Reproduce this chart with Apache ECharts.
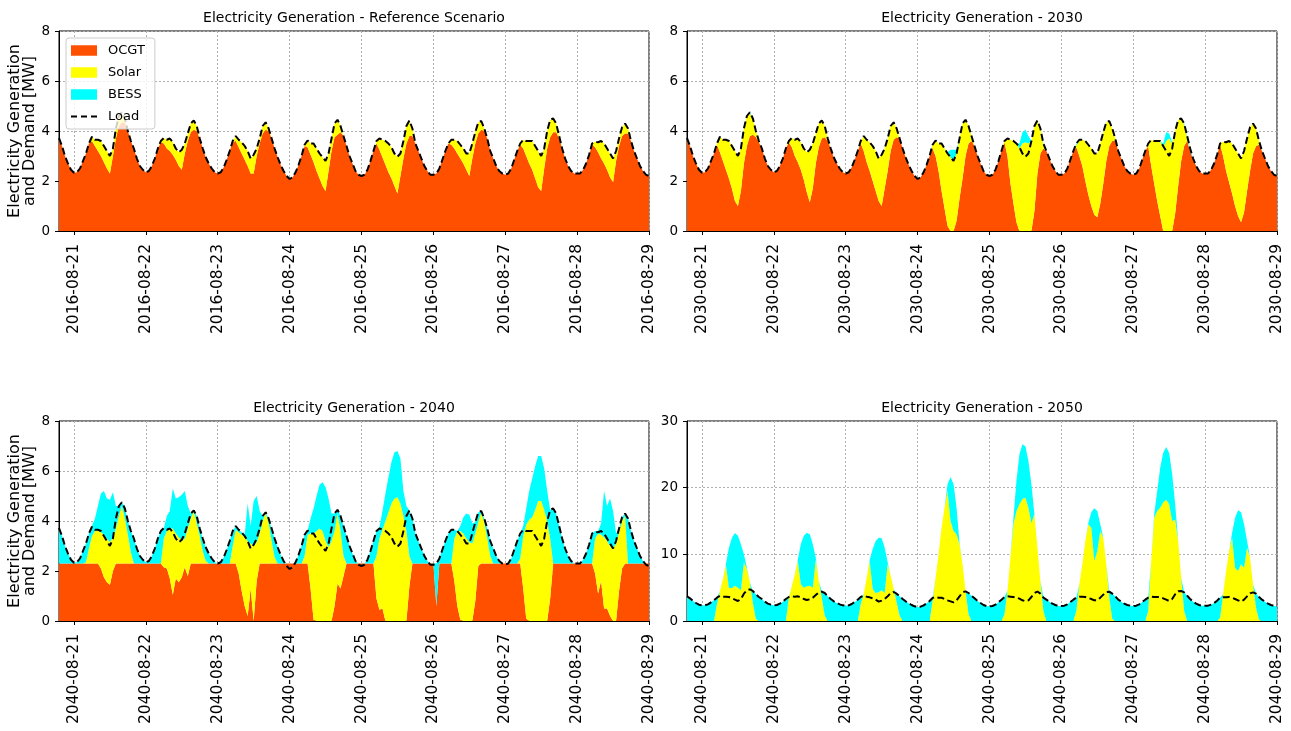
<!DOCTYPE html>
<html>
<head>
<meta charset="utf-8">
<script src="https://cdn.jsdelivr.net/npm/echarts@6/dist/echarts.min.js"></script>
<style>
html,body{margin:0;padding:0;background:#fff;}
#chart{width:1291px;height:731px;}
</style>
</head>
<body>
<div id="chart"></div>
<script>
// ---------------- DATA (hourly, 08-20 19:00 -> 08-29 00:00, 198 points) ----------------
const LOAD = [
  3.72,3.4,3.0,2.7,2.45,
  2.33,2.35,2.5,2.8,3.1,3.5, 3.77,3.65,3.65,3.6,3.4,3.2, 3.0,3.3,4.1,4.6,4.75,4.5, 4.0,3.6,3.3,2.9,2.6,2.45,
  2.35,2.4,2.6,2.9,3.3,3.6, 3.72,3.65,3.7,3.55,3.3,3.15, 3.25,3.5,3.9,4.3,4.42,4.2, 3.7,3.3,2.95,2.7,2.5,2.35,
  2.3,2.35,2.55,2.85,3.2,3.6, 3.8,3.65,3.55,3.4,3.2,2.9, 3.05,3.3,3.7,4.2,4.35,4.1, 3.7,3.3,2.95,2.65,2.4,2.2,
  2.08,2.15,2.35,2.65,3.0,3.45, 3.62,3.5,3.5,3.3,3.1,2.95, 2.8,3.1,3.7,4.3,4.45,4.2, 3.8,3.4,3.0,2.7,2.4,2.25,
  2.2,2.25,2.45,2.8,3.2,3.6, 3.7,3.65,3.6,3.5,3.35,3.1, 2.97,3.1,3.6,4.2,4.42,4.1, 3.5,3.2,2.9,2.6,2.4,2.25,
  2.25,2.3,2.5,2.85,3.2,3.5, 3.65,3.65,3.6,3.45,3.3,3.1, 3.1,3.5,3.95,4.35,4.4,4.1, 3.7,3.2,2.9,2.6,2.4,2.3,
  2.25,2.3,2.5,2.85,3.2,3.5, 3.65,3.6,3.6,3.6,3.4,3.2, 3.0,3.3,4.0,4.45,4.5,4.3, 3.8,3.3,2.9,2.6,2.4,2.3,
  2.3,2.3,2.45,2.7,3.05,3.5, 3.57,3.55,3.6,3.5,3.3,3.1, 2.9,3.2,3.7,4.15,4.3,4.1, 3.6,3.2,2.9,2.6,2.4,2.25,
  2.2
];

// Reference scenario (2016)
const OCGT_2016 = [
  3.72,3.4,3.0,2.7,2.45,
  2.33,2.35,2.5,2.8,3.1,3.5, 3.6,3.4,3.2,3.0,2.75,2.5, 2.3,3.0,3.7,4.2,4.35,4.35, 4.0,3.6,3.3,2.9,2.6,2.45,
  2.35,2.4,2.6,2.9,3.3,3.55, 3.5,3.3,3.2,3.05,2.85,2.6, 2.45,3.1,3.6,3.95,4.05,4.0, 3.7,3.3,2.95,2.7,2.5,2.35,
  2.3,2.35,2.55,2.85,3.2,3.55, 3.6,3.35,3.1,2.85,2.6,2.3, 2.3,3.0,3.5,3.9,4.05,4.0, 3.7,3.3,2.95,2.65,2.4,2.2,
  2.08,2.15,2.35,2.65,3.0,3.4, 3.35,3.05,2.75,2.4,2.1,1.8, 1.6,2.4,3.2,3.75,3.85,3.95, 3.8,3.4,3.0,2.7,2.4,2.25,
  2.2,2.25,2.45,2.8,3.2,3.5, 3.25,2.95,2.65,2.35,2.1,1.8, 1.5,2.2,2.9,3.5,3.8,3.8, 3.5,3.2,2.9,2.6,2.4,2.25,
  2.25,2.3,2.5,2.85,3.2,3.5, 3.45,3.3,3.1,2.9,2.7,2.45, 2.2,2.9,3.5,3.9,4.05,4.0, 3.7,3.2,2.9,2.6,2.4,2.3,
  2.25,2.3,2.5,2.85,3.2,3.45, 3.3,3.0,2.7,2.45,2.1,1.75, 1.6,2.5,3.3,3.75,3.95,3.95, 3.7,3.3,2.9,2.6,2.4,2.3,
  2.3,2.3,2.45,2.7,3.05,3.45, 3.35,3.15,2.9,2.7,2.45,2.15, 1.95,2.8,3.4,3.8,3.9,3.9, 3.6,3.2,2.9,2.6,2.4,2.25,
  2.2
];
const SOLAR_2016 = [
  0,0,0,0,0,
  0,0,0,0,0,0, 0.17,0.25,0.45,0.6,0.65,0.7, 0.7,0.3,0.4,0.4,0.4,0.15, 0,0,0,0,0,0,
  0,0,0,0,0,0.05, 0.22,0.35,0.5,0.5,0.45,0.55, 0.8,0.4,0.3,0.35,0.37,0.2, 0,0,0,0,0,0,
  0,0,0,0,0,0.05, 0.2,0.3,0.45,0.55,0.6,0.6, 0.75,0.3,0.2,0.3,0.3,0.1, 0,0,0,0,0,0,
  0,0,0,0,0,0.05, 0.27,0.45,0.75,0.9,1.0,1.15, 1.2,0.7,0.5,0.55,0.6,0.25, 0,0,0,0,0,0,
  0,0,0,0,0,0.1, 0.45,0.7,0.95,1.15,1.25,1.3, 1.47,0.9,0.7,0.7,0.62,0.3, 0,0,0,0,0,0,
  0,0,0,0,0,0, 0.2,0.35,0.5,0.55,0.6,0.65, 0.9,0.6,0.45,0.45,0.35,0.1, 0,0,0,0,0,0,
  0,0,0,0,0,0.05, 0.35,0.6,0.9,1.15,1.3,1.45, 1.4,0.8,0.7,0.7,0.55,0.35, 0.1,0,0,0,0,0,
  0,0,0,0,0,0.05, 0.22,0.4,0.7,0.8,0.85,0.95, 0.95,0.4,0.3,0.35,0.4,0.2, 0,0,0,0,0,0,
  0
];

// 2030
const OCGT_2030 = [
  3.72,3.4,3.0,2.7,2.45,
  2.33,2.35,2.5,2.8,3.1,3.45, 3.15,2.8,2.45,2.1,1.7,1.2, 1.0,1.6,2.7,3.4,3.8,3.85, 3.75,3.55,3.3,2.9,2.6,2.45,
  2.35,2.4,2.6,2.9,3.3,3.55, 3.35,3.0,2.75,2.45,2.05,1.55, 1.15,1.7,2.7,3.35,3.7,3.75, 3.6,3.3,2.95,2.7,2.5,2.35,
  2.3,2.35,2.55,2.85,3.2,3.5, 3.2,2.75,2.4,2.0,1.6,1.2, 1.0,1.7,2.4,3.2,3.65,3.75, 3.7,3.3,2.95,2.65,2.4,2.2,
  2.08,2.15,2.35,2.65,3.0,3.3, 3.0,2.4,1.6,0.9,0.2,0, 0,0.4,1.3,2.1,3.0,3.5, 3.6,3.4,3.0,2.7,2.4,2.25,
  2.2,2.25,2.45,2.8,3.2,3.55, 3.0,1.9,1.1,0.35,0,0, 0,0,0,0.8,2.3,3.1, 3.3,3.2,2.9,2.6,2.4,2.25,
  2.25,2.3,2.5,2.85,3.2,3.35, 3.0,2.6,2.0,1.45,1.0,0.65, 0.55,1.1,1.9,2.8,3.4,3.6, 3.6,3.2,2.9,2.6,2.4,2.3,
  2.25,2.3,2.5,2.85,3.2,3.4, 2.6,1.9,1.2,0.6,0,0, 0,0,0.7,1.8,2.8,3.4, 3.6,3.2,2.85,2.6,2.4,2.3,
  2.3,2.3,2.45,2.7,3.05,3.45, 3.0,2.4,1.95,1.5,1.0,0.6, 0.35,0.75,1.6,2.4,3.1,3.4, 3.45,3.2,2.9,2.6,2.4,2.25,
  2.2
];
const SOLAR_2030 = [
  0,0,0,0,0,
  0,0,0,0,0,0.05, 0.62,0.85,1.2,1.5,1.7,2.0, 2.0,1.7,1.4,1.2,0.9,0.65, 0.25,0.05,0,0,0,0,
  0,0,0,0,0,0.05, 0.37,0.65,0.95,1.1,1.25,1.6, 2.1,1.8,1.2,0.95,0.72,0.45, 0.1,0,0,0,0,0,
  0,0,0,0,0,0.1, 0.6,0.9,1.15,1.4,1.6,1.7, 2.05,1.6,1.3,1.0,0.7,0.35, 0,0,0,0,0,0,
  0,0,0,0,0,0.15, 0.62,1.1,1.9,2.4,2.9,2.95, 2.8,2.7,2.4,2.2,1.45,0.7, 0.2,0,0,0,0,0,
  0,0,0,0,0,0.05, 0.7,1.75,2.5,3.15,3.3,3.5, 3.55,3.5,3.6,3.4,2.12,1.0, 0.15,0,0,0,0,0,
  0,0,0,0,0,0.1, 0.6,1.05,1.6,2.0,2.3,2.45, 2.55,2.4,2.05,1.55,1.0,0.5, 0.1,0,0,0,0,0,
  0,0,0,0,0,0.1, 1.05,1.7,2.4,3.0,3.35,3.6, 3.7,3.5,3.3,2.65,1.7,0.85, 0.15,0,0,0,0,0,
  0,0,0,0,0,0.05, 0.57,1.15,1.65,2.0,2.3,2.5, 2.55,2.45,2.1,1.75,1.2,0.7, 0.15,0,0,0,0,0,
  0
];
const BESS_2030 = [
  0,0,0,0,0,
  0,0,0,0,0,0, 0,0,0,0,0,0, 0,0,0,0,0.05,0, 0,0,0,0,0,0,
  0,0,0,0,0,0, 0,0,0,0,0,0, 0,0,0,0,0,0, 0,0,0,0,0,0,
  0,0,0,0,0,0, 0,0,0,0,0,0, 0,0,0,0,0,0, 0,0,0,0,0,0,
  0,0,0,0,0,0, 0,0,0,0,0.05,0.3, 0.45,0.15,0,0,0,0, 0,0,0,0,0,0,
  0,0,0,0,0,0, 0,0,0,0,0.2,0.45, 0.5,0.3,0,0,0,0, 0.05,0,0,0,0,0,
  0,0,0,0,0,0.05, 0.05,0,0,0,0,0, 0,0,0,0,0,0, 0,0,0,0,0,0,
  0,0,0,0,0,0, 0,0,0,0,0.15,0.35, 0.2,0.05,0,0,0,0.05, 0.05,0.1,0.05,0,0,0,
  0,0,0,0,0,0, 0,0,0,0,0,0, 0,0,0,0,0,0, 0,0,0,0,0,0,
  0
];

// 2040
const OCGT_2040 = [
  2.3,2.3,2.3,2.3,2.3,
  2.3,2.3,2.3,2.3,2.3,2.3, 2.3,2.3,2.3,2.1,1.75,1.55, 1.45,2.0,2.3,2.3,2.3,2.3, 2.3,2.3,2.3,2.3,2.3,2.3,
  2.3,2.3,2.3,2.3,2.3,2.3, 2.15,2.1,1.7,1.05,1.7,1.55, 1.75,2.15,1.8,2.3,2.3,2.3, 2.3,2.3,2.3,2.3,2.3,2.3,
  2.3,2.3,2.3,2.3,2.3,2.3, 2.3,1.9,1.2,0.6,0.2,1.3, 0,1.6,2.3,2.3,2.3,2.3, 2.3,2.3,2.3,2.3,2.3,2.3,
  2.3,2.3,2.3,2.3,2.3,2.3, 2.3,1.3,0.05,0,0,0, 0,0,0,0.6,1.5,1.3, 1.8,2.3,2.3,2.3,2.3,2.3,
  2.3,2.3,2.3,2.3,2.3,0.9, 0.45,0.5,0,0,0,0, 0,0,0,0,1.4,2.3, 2.3,2.3,2.3,2.3,2.3,2.3,
  2.3,0.6,2.3,2.3,2.3,2.3, 2.3,1.6,0.6,0.05,0,0, 0,0,0.8,2.2,2.3,2.3, 2.3,2.3,2.3,2.3,2.3,2.3,
  2.3,2.3,2.3,2.3,2.3,2.3, 1.3,0.1,0,0,0,0, 0,0,0,0.9,2.3,2.3, 2.3,2.3,2.3,2.3,2.3,2.3,
  2.3,2.3,2.3,2.3,2.3,2.3, 1.9,1.1,1.6,0.5,0.5,0.2, 0,0,1.2,2.1,2.3,2.3, 2.3,2.3,2.3,2.3,2.3,2.3,
  2.3
];
const SOLAR_2040 = [
  0,0,0,0,0,
  0,0,0,0,0.05,0.6, 1.1,1.3,1.32,1.45,1.7,1.75, 1.7,1.35,1.4,1.9,2.3,1.8, 1.15,0.45,0,0,0,0,
  0,0,0,0,0,0, 1.15,1.5,2.0,2.65,1.8,1.8, 1.45,1.15,1.9,1.8,2.1,1.6, 1.1,0.5,0.1,0,0,0,
  0,0,0,0,0,0.7, 1.35,1.65,2.25,2.75,3.0,1.8, 3.0,1.55,1.2,1.7,2.05,1.6, 0.9,0.25,0,0,0,0,
  0,0,0,0,0,0.3, 1.15,2.2,3.45,3.6,3.7,3.6, 3.2,2.95,3.2,3.0,2.8,2.3, 0.8,0,0,0,0,0,
  0,0,0,0,0,1.7, 2.85,3.15,4.0,4.35,4.7,4.9, 4.95,4.7,4.2,3.6,1.2,0, 0,0,0,0,0,0,
  0,0,0,0,0,0, 0,1.7,3.0,3.55,3.5,3.3, 3.15,3.1,2.7,1.75,2.05,1.65, 1.0,0.3,0,0,0,0,
  0,0,0,0,0,0.2, 2.1,3.75,4.05,4.15,4.45,4.8, 4.8,4.45,4.0,2.4,0,0, 0,0,0,0,0,0,
  0,0,0,0,0,0, 1.4,2.4,1.85,2.85,2.7,2.8, 2.9,3.1,2.35,1.9,1.9,0, 0,0,0,0,0,0,
  0
];
const BESS_2040 = [
  1.42,1.1,0.7,0.4,0.15,
  0.03,0.05,0.2,0.5,0.75,0.6, 0.4,0.5,0.98,1.55,1.75,1.6, 1.7,1.8,0.9,0.4,0.15,0.4, 0.55,0.85,1.0,0.6,0.3,0.15,
  0.05,0.1,0.3,0.6,1.0,1.3, 0.42,0.6,0.7,1.6,1.4,1.6, 1.85,1.9,0.9,0.2,0.02,0.3, 0.3,0.5,0.55,0.4,0.2,0.05,
  0,0.05,0.25,0.55,0.9,0.6, 0.15,0.1,0.1,0.1,1.5,0.7, 1.8,1.85,0.9,0.2,0,0.2, 0.5,0.75,0.65,0.35,0.1,0,
  0,0,0.05,0.35,0.7,0.85, 0.17,0.6,1.0,1.4,1.75,1.95, 2.15,1.95,1.1,0.7,0.15,0.6, 1.2,1.1,0.7,0.4,0.1,0,
  0,0,0.15,0.5,0.9,1.0, 0.45,0.75,1.1,1.4,1.65,1.85, 1.85,1.8,1.0,1.0,1.82,1.8, 1.2,0.9,0.6,0.3,0.1,0,
  0,1.7,0.2,0.55,0.9,1.2, 1.35,0.35,0,0.2,0.65,1.0, 1.1,0.8,0.45,0.4,0.05,0.15, 0.4,0.6,0.6,0.3,0.1,0,
  0,0,0.2,0.55,0.9,1.0, 0.4,0.65,1.15,1.55,1.75,1.8, 1.8,1.65,1.2,1.15,2.2,2.0, 1.5,1.0,0.6,0.3,0.1,0,
  0,0,0.15,0.4,0.75,1.2, 0.3,0.1,0.45,1.85,1.4,1.9, 1.5,0.4,0.15,0.15,0.1,1.8, 1.3,0.9,0.6,0.3,0.1,0,
  0
];

// 2050 (no OCGT)
const SOLAR_2050 = [
  0,0,0,0,0,
  0,0,0,0,0,2.5, 4.5,6.3,8.4,5.0,4.9,5.3, 5.0,4.6,8.8,7.8,5.8,2.7, 0.3,0,0,0,0,0,
  0,0,0,0,0,3.5, 5.2,7.0,9.0,5.5,5.0,5.2, 5.3,5.0,9.2,6.0,3.5,0.8, 0,0,0,0,0,0,
  0,0,0,0,0,2.5, 4.0,6.5,9.0,4.8,4.2,4.3, 4.6,4.2,8.5,6.8,4.8,2.8, 0.8,0,0,0,0,0,
  0,0,0,0,0,3.0, 6.5,10.0,14.0,17.0,19.5,15.0, 13.5,13.0,11.5,8.5,4.5,1.0, 0,0,0,0,0,0,
  0,0,0,0,0,1.0, 4.5,9.5,14.5,16.5,17.5,18.3, 18.5,17.0,14.7,16.0,11.0,6.0, 1.5,0,0,0,0,0,
  0,0,0,0,0,1.5, 5.5,8.5,12.0,14.5,14.0,9.0, 10.5,13.5,12.5,8.5,3.5,0.3, 0,0,0,0,0,0,
  0,0,0,0,0,1.5, 9.0,15.5,16.5,17.0,17.8,18.2, 17.5,15.0,15.2,12.0,6.5,1.5, 0,0,0,0,0,0,
  0,0,0,0,0,0.5, 4.0,7.5,10.5,12.5,8.0,7.5, 8.5,8.0,11.0,9.5,5.5,2.0, 0.2,0,0,0,0,0,
  0
];
const BESS_2050 = [
  3.72,3.4,3.0,2.7,2.45,
  2.33,2.35,2.5,2.8,3.1,1.0, 0,0,0.2,6.0,7.6,7.9, 7.8,6.9,1.2,0.2,0,1.8, 3.7,3.6,3.3,2.9,2.6,2.45,
  2.35,2.4,2.6,2.9,3.3,0.1, 0,0,0.2,6.0,7.8,8.05, 7.7,6.5,0.3,0,0.92,3.4, 3.7,3.3,2.95,2.7,2.5,2.35,
  2.3,2.35,2.55,2.85,3.2,1.1, 0,0,0.2,6.0,7.8,8.2, 7.8,6.8,0.3,0,0,1.3, 2.9,3.3,2.95,2.65,2.4,2.2,
  2.08,2.15,2.35,2.65,3.0,0.45, 0,0,0,0,1.0,6.6, 7.0,4.0,0.2,0,0,3.2, 3.8,3.4,3.0,2.7,2.4,2.25,
  2.2,2.25,2.45,2.8,3.2,2.6, 0,0,1.0,4.5,7.5,8.2, 7.7,7.0,5.8,0,0,0, 2.0,3.2,2.9,2.6,2.4,2.25,
  2.25,2.3,2.5,2.85,3.2,2.0, 0,0,0,0.2,2.3,7.9, 6.0,1.0,0,0,0.9,3.8, 3.7,3.2,2.9,2.6,2.4,2.3,
  2.25,2.3,2.5,2.85,3.2,2.0, 0,0.5,3.0,6.0,7.4,7.9, 7.7,7.0,2.3,0,0,2.8, 3.8,3.3,2.9,2.6,2.4,2.3,
  2.3,2.3,2.45,2.7,3.05,3.0, 0,0,0,0.7,7.5,9.1, 7.8,6.5,1.0,0,0,2.1, 3.4,3.2,2.9,2.6,2.4,2.25,
  2.2
];

const TITLES = ['Electricity Generation - Reference Scenario','Electricity Generation - 2030','Electricity Generation - 2040','Electricity Generation - 2050'];
const AXIS_YEARS = ['2016','2030','2040','2040'];
const Y_MAX = [8, 8, 8, 30];
const Y_STEP = [2, 2, 2, 10];
const Y_NAME = 'Electricity Generation\nand Demand [MW]';
const PANEL_SERIES = [
  {OCGT: OCGT_2016, Solar: SOLAR_2016},
  {OCGT: OCGT_2030, Solar: SOLAR_2030, BESS: BESS_2030},
  {OCGT: OCGT_2040, Solar: SOLAR_2040, BESS: BESS_2040},
  {Solar: SOLAR_2050, BESS: BESS_2050}
];

// ---------------- CHART ----------------
const FONT = '"DejaVu Sans", sans-serif';
const COLORS = {OCGT: '#ff5000', Solar: '#ffff00', BESS: '#00ffff'};
const GRIDS = [[59, 31], [687, 31], [59, 421], [687, 421]];
const GW = 590, GH = 200;

function makeCats(year) {
  const out = [];
  for (let i = 0; i < LOAD.length; i++) {
    const h = 19 + i;
    const day = 20 + Math.floor(h / 24);
    const hh = h % 24;
    out.push(year + '-08-' + String(day).padStart(2, '0') + ' ' + String(hh).padStart(2, '0') + ':00');
  }
  return out;
}
const isMidnight = (idx) => idx % 24 === 5;

const grid = [], xAxis = [], yAxis = [], series = [], graphic = [];
GRIDS.forEach(([l, t], k) => {
  grid.push({left: l, top: t, width: GW, height: GH, show: true, borderColor: '#000', borderWidth: 1, backgroundColor: 'transparent'});
  xAxis.push({
    type: 'category', gridIndex: k, data: makeCats(AXIS_YEARS[k]), boundaryGap: false,
    axisLine: {show: true, onZero: false, lineStyle: {color: '#000', width: 1}},
    axisTick: {show: true, interval: isMidnight, length: 4, lineStyle: {color: '#000'}},
    axisLabel: {interval: isMidnight, rotate: 90, margin: 13, fontSize: 15.5, color: '#000', fontFamily: FONT,
      formatter: v => v.slice(0, 10)},
    splitLine: {show: true, interval: isMidnight, lineStyle: {color: '#b0b0b0', width: 1, type: [2, 2]}}
  });
  yAxis.push({
    type: 'value', gridIndex: k, min: 0, max: Y_MAX[k], interval: Y_STEP[k],
    axisLine: {show: true, lineStyle: {color: '#000'}},
    axisTick: {show: true, length: 4, lineStyle: {color: '#000'}},
    axisLabel: {fontSize: 13.5, color: '#000', margin: 9, fontFamily: FONT},
    splitLine: {show: true, lineStyle: {color: '#b0b0b0', width: 1, type: [2, 2]}},
    name: (k % 2 === 0) ? Y_NAME : '', nameLocation: 'middle', nameRotate: 90, nameGap: 14,
    nameTextStyle: {fontSize: 16, lineHeight: 15, color: '#000', fontFamily: FONT, align: 'center'}
  });
  graphic.push({type: 'text', x: l + GW / 2, y: t - 13, silent: true,
    style: {text: TITLES[k], fill: '#000', font: '14px ' + FONT, align: 'center', verticalAlign: 'middle'}});
  const ps = PANEL_SERIES[k];
  ['OCGT', 'Solar', 'BESS'].forEach(name => {
    if (!ps[name]) return;
    series.push({
      type: 'line', name, xAxisIndex: k, yAxisIndex: k, data: ps[name], stack: 'gen' + k,
      symbol: 'none', silent: true, lineStyle: {width: 0, opacity: 0},
      itemStyle: {color: COLORS[name]}, areaStyle: {color: COLORS[name], opacity: 1},
      emphasis: {disabled: true}
    });
  });
  series.push({
    type: 'line', name: 'Load', xAxisIndex: k, yAxisIndex: k, data: LOAD, symbol: 'none', silent: true,
    itemStyle: {color: '#000'}, lineStyle: {color: '#000', width: 2, type: [7, 3.5]}, z: 5,
    emphasis: {disabled: true}
  });
});

const chart = echarts.init(document.getElementById('chart'), null, {renderer: 'canvas'});
chart.setOption({
  animation: false,
  backgroundColor: '#fff',
  textStyle: {fontFamily: FONT},
  grid, xAxis, yAxis, series, graphic,
  legend: {
    orient: 'vertical', left: 66, top: 38, padding: [6, 10, 6, 5],
    itemWidth: 26, itemHeight: 10.5, itemGap: 9,
    backgroundColor: 'rgba(255,255,255,0.8)', borderColor: '#cccccc', borderWidth: 1, borderRadius: 3,
    textStyle: {fontSize: 13, lineHeight: 13, color: '#000', fontFamily: FONT, padding: [0, 0, 0, 6]},
    selectedMode: false, z: 10,
    data: [
      {name: 'OCGT', icon: 'rect'},
      {name: 'Solar', icon: 'rect'},
      {name: 'BESS', icon: 'rect'},
      {name: 'Load', icon: 'path://M0,0H6V2H0Z M10,0H16V2H10Z M20,0H26V2H20Z', itemStyle: {color: '#000'}}
    ]
  }
});
</script>
</body>
</html>
